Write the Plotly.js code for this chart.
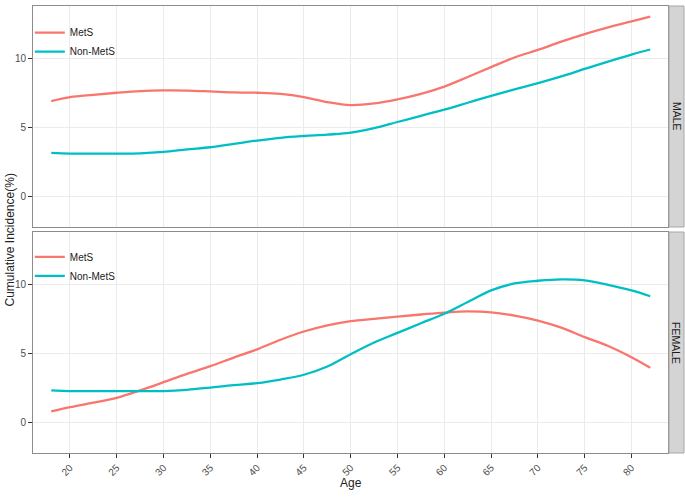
<!DOCTYPE html>
<html>
<head>
<meta charset="utf-8">
<script src="https://cdn.plot.ly/plotly-3.0.1.min.js"></script>
<style>html,body{margin:0;padding:0;background:#fff;}#chart{width:685px;height:500px;}</style>
</head>
<body>
<div id="chart"></div>
<script>
// Ages (x)
const ages = [18,20,22.5,25,27.5,30,32.5,35,37.5,40,42.5,45,47.5,50,52.5,55,57.5,60,62.5,65,67.5,70,72.5,75,77.5,80,82];
// Cumulative incidence (%) - MALE
const maleMetS = [6.92,7.21,7.38,7.53,7.65,7.70,7.69,7.63,7.56,7.53,7.45,7.22,6.85,6.63,6.75,7.05,7.45,7.98,8.68,9.40,10.1,10.65,11.25,11.8,12.3,12.73,13.08];
const maleNon  = [3.15,3.10,3.10,3.10,3.12,3.22,3.40,3.56,3.80,4.05,4.25,4.38,4.48,4.62,4.95,5.40,5.85,6.30,6.80,7.30,7.77,8.23,8.72,9.27,9.80,10.31,10.68];
// Cumulative incidence (%) - FEMALE
const femaleMetS = [0.78,1.09,1.42,1.77,2.31,2.91,3.52,4.08,4.70,5.30,6.00,6.60,7.05,7.35,7.52,7.69,7.84,7.98,8.07,8.00,7.76,7.40,6.88,6.19,5.55,4.73,3.96];
const femaleNon  = [2.31,2.26,2.26,2.26,2.26,2.26,2.35,2.52,2.70,2.84,3.10,3.45,4.05,4.95,5.80,6.50,7.20,7.90,8.75,9.60,10.1,10.3,10.4,10.33,10.0,9.59,9.17];

const seriesNames = ["MetS","Non-MetS"];
const panelLabels = ["MALE","FEMALE"];
const xTicks = [20,25,30,35,40,45,50,55,60,65,70,75,80];
const yTicks = [0,5,10];
const xTitle = "Age";
const yTitle = "Cumulative Incidence(%)";

const cRed = "#F8766D", cTeal = "#00BFC4";
const lw = 2.3;

const traces = [
  {x: ages, y: maleMetS, name: seriesNames[0], type: "scatter", mode: "lines", line: {color: cRed, width: lw, shape: "spline"}, xaxis: "x2", yaxis: "y2", legend: "legend"},
  {x: ages, y: maleNon, name: seriesNames[1], type: "scatter", mode: "lines", line: {color: cTeal, width: lw, shape: "spline"}, xaxis: "x2", yaxis: "y2", legend: "legend"},
  {x: ages, y: femaleMetS, name: seriesNames[0], type: "scatter", mode: "lines", line: {color: cRed, width: lw, shape: "spline"}, xaxis: "x", yaxis: "y", legend: "legend2"},
  {x: ages, y: femaleNon, name: seriesNames[1], type: "scatter", mode: "lines", line: {color: cTeal, width: lw, shape: "spline"}, xaxis: "x", yaxis: "y", legend: "legend2"}
];

const font = {family: "Liberation Sans, Arial, sans-serif", size: 11, color: "#222"};
const yr = [-2.25, 13.85];
const xr = [16.05, 83.9];
const gridc = "#EBEBEB";
const borderc = "#8C8C8C";

const axisCommon = {
  range: null, showgrid: true, gridcolor: gridc, gridwidth: 1, zeroline: false,
  showline: true, linecolor: borderc, linewidth: 1, mirror: true
};

const legendCommon = {
  bgcolor: "rgba(0,0,0,0)", borderwidth: 0, font: {family: font.family, size: 10, color: "#222"},
  xref: "paper", yref: "paper", xanchor: "left", yanchor: "top", tracegroupgap: 0, itemwidth: 30
};

const layout = {
  width: 685, height: 500,
  margin: {l: 33, r: 17, t: 6, b: 47},
  paper_bgcolor: "#fff", plot_bgcolor: "#fff",
  font: font,
  showlegend: true,
  legend: Object.assign({}, legendCommon, {x: -0.005, y: 0.973}),
  legend2: Object.assign({}, legendCommon, {x: -0.005, y: 0.471}),
  xaxis: Object.assign({}, axisCommon, {range: xr, anchor: "y", domain: [0,1], tickvals: xTicks, ticktext: xTicks.map(String),
    ticks: "outside", ticklen: 4, tickcolor: "#333", tickangle: -45, tickfont: {family: font.family, size: 10, color: "#4D4D4D"}}),
  xaxis2: Object.assign({}, axisCommon, {range: xr, anchor: "y2", domain: [0,1], tickvals: xTicks, showticklabels: false, ticks: ""}),
  yaxis: Object.assign({}, axisCommon, {range: yr, anchor: "x", domain: [0, 0.4944], tickvals: yTicks,
    ticks: "outside", ticklen: 4, tickcolor: "#333", tickfont: {family: font.family, size: 10, color: "#4D4D4D"}}),
  yaxis2: Object.assign({}, axisCommon, {range: yr, anchor: "x2", domain: [0.5056, 1], tickvals: yTicks,
    ticks: "outside", ticklen: 4, tickcolor: "#333", tickfont: {family: font.family, size: 10, color: "#4D4D4D"}}),
  shapes: [
    {type: "rect", xref: "paper", yref: "paper", x0: 1.0016, x1: 1.0252, y0: 0.5056, y1: 1, fillcolor: "#D4D4D4", line: {color: "#A6A6A6", width: 1}, layer: "above"},
    {type: "rect", xref: "paper", yref: "paper", x0: 1.0016, x1: 1.0252, y0: 0, y1: 0.4944, fillcolor: "#D4D4D4", line: {color: "#A6A6A6", width: 1}, layer: "above"}
  ],
  annotations: [
    {text: panelLabels[0], xref: "paper", yref: "paper", x: 1.0134, y: 0.7528, textangle: 90, showarrow: false, xanchor: "center", yanchor: "middle", font: {family: font.family, size: 10.5, color: "#1A1A1A"}},
    {text: panelLabels[1], xref: "paper", yref: "paper", x: 1.0134, y: 0.2472, textangle: 90, showarrow: false, xanchor: "center", yanchor: "middle", font: {family: font.family, size: 10.5, color: "#1A1A1A"}},
    {text: yTitle, xref: "paper", yref: "paper", x: -0.037, y: 0.4765, textangle: -90, showarrow: false, xanchor: "center", yanchor: "middle", font: {family: font.family, size: 12, color: "#222"}},
    {text: xTitle, xref: "paper", yref: "paper", x: 0.5, y: -0.066, showarrow: false, xanchor: "center", yanchor: "middle", font: {family: font.family, size: 12, color: "#222"}}
  ]
};

Plotly.newPlot("chart", traces, layout, {displayModeBar: false, staticPlot: true});
</script>
</body>
</html>
